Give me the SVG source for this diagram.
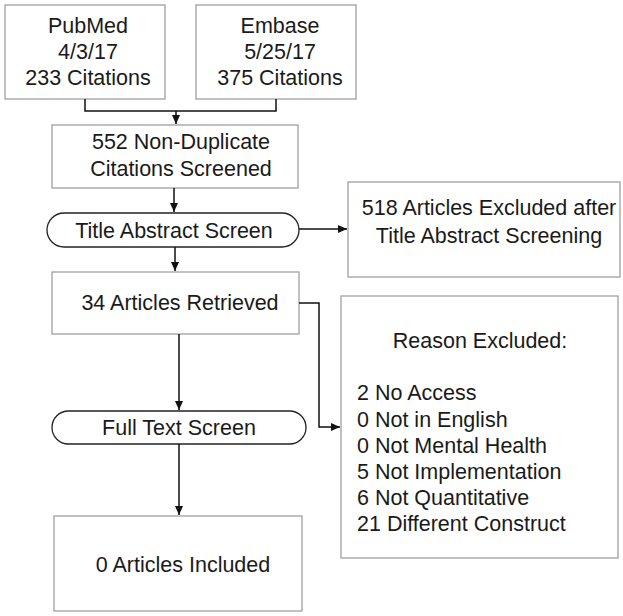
<svg xmlns="http://www.w3.org/2000/svg" width="623" height="616" viewBox="0 0 623 616">
<defs>
<marker id="ah" markerWidth="10" markerHeight="10" refX="9" refY="5" orient="auto" markerUnits="userSpaceOnUse">
<path d="M0,1 L9,5 L0,9 Z" fill="#111"/>
</marker>
<style>
.box{fill:#fff;stroke:#a0a0a0;stroke-width:1.3}
.pill{fill:#fff;stroke:#222;stroke-width:1.3}
text{font-family:"Liberation Sans",Arial,sans-serif;font-size:21.5px;fill:#1a1a1a}
.c{text-anchor:middle}
.ln{fill:none;stroke:#111;stroke-width:1.5}
</style>
</defs>
<rect width="623" height="616" fill="#fff"/>
<g id="pubmed">
<rect class="box" x="5" y="5" width="160" height="94"/>
<text class="c" x="88" y="33">PubMed</text>
<text class="c" x="88" y="59">4/3/17</text>
<text class="c" x="88" y="85">233 Citations</text>
</g>
<g id="embase">
<rect class="box" x="196" y="5" width="160" height="94"/>
<text class="c" x="280" y="33">Embase</text>
<text class="c" x="280" y="59">5/25/17</text>
<text class="c" x="280" y="85">375 Citations</text>
</g>
<g id="nondup">
<rect class="box" x="52" y="125" width="246" height="63"/>
<text class="c" x="181" y="149">552 Non-Duplicate</text>
<text class="c" x="181" y="176">Citations Screened</text>
</g>
<g id="titleabs">
<rect class="pill" x="47" y="213" width="252" height="34" rx="17"/>
<text class="c" x="174" y="238">Title Abstract Screen</text>
</g>
<g id="excluded518">
<rect class="box" x="348" y="182" width="272" height="95"/>
<text class="c" x="489" y="215">518 Articles Excluded after</text>
<text class="c" x="489" y="243">Title Abstract Screening</text>
</g>
<g id="retrieved">
<rect class="box" x="52" y="272" width="247" height="62"/>
<text class="c" x="180" y="310">34 Articles Retrieved</text>
</g>
<g id="reasons">
<rect class="box" x="341" y="296" width="277" height="262"/>
<text class="c" x="480" y="348">Reason Excluded:</text>
<text x="357" y="400">2 No Access</text>
<text x="357" y="427">0 Not in English</text>
<text x="357" y="453">0 Not Mental Health</text>
<text x="357" y="479">5 Not Implementation</text>
<text x="357" y="505">6 Not Quantitative</text>
<text x="357" y="531">21 Different Construct</text>
</g>
<g id="fulltext">
<rect class="pill" x="52" y="411" width="254" height="33" rx="16.5"/>
<text class="c" x="179" y="435">Full Text Screen</text>
</g>
<g id="included">
<rect class="box" x="54" y="516" width="248" height="95"/>
<text class="c" x="183" y="572">0 Articles Included</text>
</g>
<g id="connectors">
<path class="ln" d="M85,99 V111 H276 V99"/>
<path class="ln" d="M176,111 V124" marker-end="url(#ah)"/>
<path class="ln" d="M174,188 V212" marker-end="url(#ah)"/>
<path class="ln" d="M299,229 H347" marker-end="url(#ah)"/>
<path class="ln" d="M175,247 V271" marker-end="url(#ah)"/>
<path class="ln" d="M299,303 H319 V427 H340" marker-end="url(#ah)"/>
<path class="ln" d="M179,334 V410" marker-end="url(#ah)"/>
<path class="ln" d="M179,444 V515" marker-end="url(#ah)"/>
</g>
</svg>
